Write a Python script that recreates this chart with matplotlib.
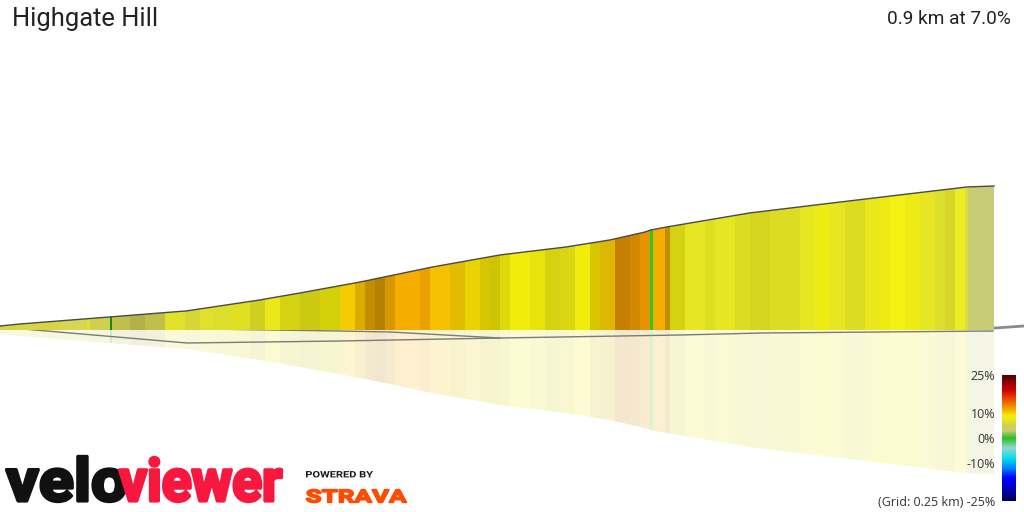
import numpy as np
import matplotlib
matplotlib.use('Agg')
import matplotlib.pyplot as plt
from matplotlib.colors import LinearSegmentedColormap, Normalize
from matplotlib.colorbar import ColorbarBase
from matplotlib.patches import Polygon, PathPatch
from matplotlib.textpath import TextPath
from matplotlib.font_manager import FontProperties
from matplotlib.transforms import Affine2D

# --- data ---
title = 'Highgate Hill'
summary = '0.9 km at 7.0%'

# elevation profile (distance in m, elevation in m)
prof_dist = [0, 18, 54, 100, 169, 235, 272, 326, 392, 453, 513, 552, 584, 589, 604,
             679, 754, 830, 876, 900]
prof_elev = [65.8, 66.7, 68.1, 69.9, 72.6, 77.5, 80.7, 85.6, 92.4, 97.8, 101.4, 104.5,
             108.1, 109.0, 110.4, 116.7, 121.2, 125.7, 128.4, 128.8]
ground_elev = 64

# coloured strips: edges (m), gradient (%) and lighting of each strip
seg_edges = [0, 57, 79, 81.5, 99.5, 101.5, 108.5, 117.5, 131.5, 149.5, 167.5, 181, 194.5,
             208, 226.5, 240, 253.5, 271.5, 290, 308, 321.5, 330.5, 339.5, 348.5, 357.5,
             380.5, 389.5, 407.5, 421, 434.5, 443.5, 452.5, 462, 480, 493.5, 507, 520.5,
             534, 543, 557, 570.5, 579.5, 588.5, 591, 602, 606.5, 620, 638.5, 647.5, 665.5,
             679, 697, 724.5, 738, 751.5, 765, 783, 797, 806, 819.5, 833, 846.5, 855.5,
             864.5, 873.5, 876.5, 900]
seg_grade = [5.5, 5.0, 6.5, 5.0, 0.0, 5.0, 4.5, 4.5, 5.0, 6.5,
             6.0, 6.5, 6.5, 7.0, 7.0, 7.5, 8.0, 8.0, 8.5, 10.0,
             10.5, 11.0, 11.0, 11.0, 11.0, 11.5, 10.5, 10.0, 9.5, 9.5,
             9.0, 8.5, 8.5, 8.5, 8.0, 8.0, 8.5, 9.5, 10.0, 12.0,
             12.0, 12.0, 0.0, 11.0, 11.0, 8.0, 7.0, 7.0, 7.0, 7.0,
             7.0, 7.0, 7.0, 8.0, 7.0, 7.0, 7.5, 8.0, 8.0, 8.0,
             7.0, 6.5, 6.5, 7.0, 6.0, 3.0]
seg_light = [1.0, 1.03, 1.0, 1.0, 0.7, 0.93, 0.92, 0.86, 0.92, 1.0,
             0.98, 1.0, 0.98, 0.97, 0.9, 1.0, 0.9, 0.86, 0.88, 1.0,
             0.9, 0.8, 0.74, 0.87, 1.0, 0.96, 1.0, 0.92, 0.95, 0.88,
             0.84, 0.92, 1.0, 0.96, 0.9, 0.92, 1.0, 0.88, 0.9, 0.82,
             0.88, 0.95, 1.05, 1.0, 0.8, 0.9, 1.0, 0.97, 1.0, 0.96,
             0.93, 0.96, 1.0, 1.0, 1.0, 0.96, 1.0, 1.0, 1.03, 1.0,
             1.0, 0.98, 0.95, 1.03, 1.0, 1.0]

# ground grid lines (0.25 km grid seen in perspective)
grid1_dist = [0, 307.8, 353.1, 452.7, 615.7, 690.8, 899]
grid1_elev = [65.8, 63.55, 63.1, 60.4, 61.75, 62.65, 63.55]
grid2_dist = [0, 169.3, 307.8, 452.7]
grid2_elev = [65.35, 58.15, 59.05, 60.4]
stub_dist = [900.9, 927.1]
stub_elev = [64.9, 65.8]

# gradient colour scale
scale_vals = [-25, -20, -16, -12, -8, -4, 0, 3, 5, 7, 9, 11, 13, 16, 19, 25]
scale_cols = ['#000050', '#0000c0', '#0000ff', '#0080ff', '#00e0e8', '#98d4d0',
              '#20c020', '#c8cc78', '#d0d050', '#e6e622', '#f4ee04', '#f5b000',
              '#ee8800', '#e84000', '#d00000', '#500000']
cbar_ticks = [25, 10, 0, -10, -25]
cbar_labels = ['25%', '10%', '0%', '-10%', '(Grid: 0.25 km) -25%']

W, H = 1024, 512
fig = plt.figure(figsize=(W / 100, H / 100), dpi=100)
ax = fig.add_axes([0, 0, 1, 1])
ax.set_xlim(0, 927.1)
ax.set_ylim(ground_elev - 182 / 2.222, ground_elev + 330 / 2.222)
ax.axis('off')

norm = Normalize(-25, 25)
cmap = LinearSegmentedColormap.from_list(
    'grade', [((v + 25) / 50, c) for v, c in zip(scale_vals, scale_cols)])

cols = [np.clip(np.array(cmap(norm(g))[:3]) * s, 0, 1) for g, s in zip(seg_grade, seg_light)]
left = np.array(seg_edges[:-1])
widths = np.diff(seg_edges)

# profile and its mirror on the ground
top = list(zip(prof_dist, prof_elev))
prof_poly = Polygon(top + [(prof_dist[-1], ground_elev), (0, ground_elev)],
                    closed=True, facecolor='none', edgecolor='none', transform=ax.transData)
refl_poly = Polygon([(d, 2 * ground_elev - e) for d, e in top] +
                    [(prof_dist[-1], ground_elev), (0, ground_elev)],
                    closed=True, facecolor='none', edgecolor='none', transform=ax.transData)
ax.add_patch(prof_poly)
ax.add_patch(refl_poly)

bars = ax.bar(left, 200, width=widths, bottom=ground_elev, align='edge',
              color=cols, linewidth=0, antialiased=False, zorder=3)
for b in bars:
    b.set_clip_path(prof_poly)
refl = ax.bar(left, -200, width=widths, bottom=ground_elev, align='edge',
              color=cols, alpha=0.19, linewidth=0, antialiased=False, zorder=1)
for b in refl:
    b.set_clip_path(refl_poly)

ax.plot(prof_dist, prof_elev, color='#4a4a4a', lw=1.0, zorder=4)
ax.plot(grid1_dist, grid1_elev, color='#7a7a7a', lw=1.0, zorder=2)
ax.plot(grid2_dist, grid2_elev, color='#7a7a7a', lw=1.0, zorder=2)
ax.plot(stub_dist, stub_elev, color='#8a8a8a', lw=2.0, zorder=2)

# titles
fig.text(12 / W, 1 - 19 / H, title, fontsize=18.4, family='Roboto', color='#222222',
         ha='left', va='center')
fig.text(1011 / W, 1 - 19 / H, summary, fontsize=13.7, family='Roboto', color='#222222',
         ha='right', va='center')

# colour bar
cax = fig.add_axes([1002 / W, 1 - 501 / H, 14 / W, 126 / H])
cb = ColorbarBase(cax, cmap=cmap, norm=norm, orientation='vertical')
cb.outline.set_visible(False)
cax.yaxis.set_ticks_position('left')
cax.set_yticks(cbar_ticks)
cax.set_yticklabels(cbar_labels)
cax.tick_params(length=0, pad=5, labelsize=9, labelcolor='#333333')
for t in cax.get_yticklabels():
    t.set_family('Open Sans')


# logos drawn as text fitted into their boxes (image pixels, y down)
def fit_text(s, box, color, fp, stroke=0.0):
    x0, y0, x1, y1 = box
    tp = TextPath((0, 0), s, prop=fp, size=100)
    ext = tp.get_extents()
    tr = (Affine2D().translate(-ext.x0, -ext.y0)
          .scale((x1 - x0) / ext.width, (y1 - y0) / ext.height)
          .translate(x0, H - y1).scale(1 / 100) + fig.dpi_scale_trans)
    fig.add_artist(PathPatch(tp, transform=tr, facecolor=color,
                             edgecolor=color if stroke else 'none',
                             lw=stroke, joinstyle='round'))


heavy = FontProperties(family='Roboto', weight='bold')
fit_text('velo', (6.5, 456.5, 125.5, 501.5), '#111111', heavy, stroke=2.4)
fit_text('viewer', (119.5, 457.5, 281.5, 501.5), '#f8173e', heavy, stroke=2.4)
fit_text('POWERED BY', (306, 471, 373, 477.5), '#1a1a1a', heavy)
fit_text('STRAVA', (306.5, 489.5, 406.5, 502.5), '#fc4c02', heavy, stroke=1.2)

plt.savefig('out.png', dpi=100)
